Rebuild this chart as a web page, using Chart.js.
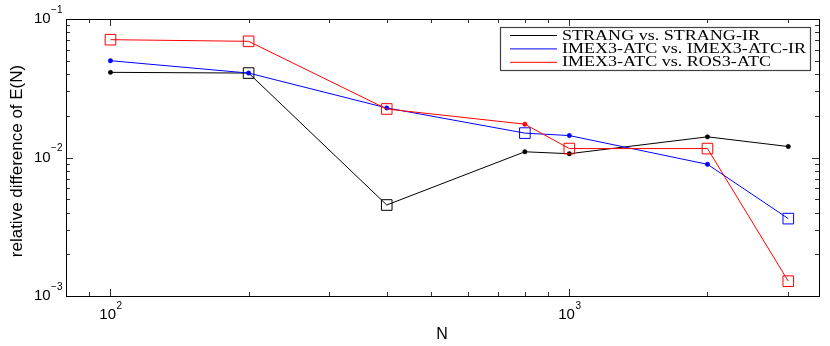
<!DOCTYPE html>
<html>
<head>
<meta charset="utf-8">
<script src="https://cdn.jsdelivr.net/npm/chart.js@4"></script>
<style>
  html, body { margin: 0; padding: 0; background: #fff; }
  #wrap { width: 830px; height: 346px; }
</style>
</head>
<body>
<div id="wrap"><canvas id="chart" width="830" height="346"></canvas></div>
<script>
// === data ===
var nValues = [100, 200, 400, 800, 1000, 2000, 3000];

var strangVals  = [0.0412, 0.0407, 0.00454, 0.0110, 0.01065, 0.0141, 0.0120];
var strangMarks = ['dot', 'sq', 'sq', 'dot', 'dot', 'dot', 'dot'];

var imexIrVals  = [0.0500, 0.0407, 0.0228, 0.0150, 0.0144, 0.00893, 0.00362];
var imexIrMarks = ['dot', 'dot', 'dot', 'sq', 'dot', 'dot', 'sq'];

var rosVals  = [0.0709, 0.0690, 0.0224, 0.0174, 0.0116, 0.0116, 0.00128];
var rosMarks = ['sq', 'sq', 'sq', 'dot', 'sq', 'sq', 'sq'];

var seriesLabels = ['STRANG vs. STRANG-IR', 'IMEX3-ATC vs. IMEX3-ATC-IR', 'IMEX3-ATC vs. ROS3-ATC'];
var seriesColors = ['#000000', '#0000ff', '#ff0000'];

var xTickDecades = [2, 3];       // 10^2, 10^3
var yTickDecades = [-1, -2, -3]; // 10^-1 .. 10^-3

// === helpers ===
function makeDataset(label, vals, marks, color, order) {
  return {
    label: label,
    data: vals.map(function(v, i) { return { x: nValues[i], y: v }; }),
    borderColor: color,
    borderWidth: 1,
    pointStyle: marks.map(function(m) { return m === 'sq' ? 'rect' : 'circle'; }),
    pointRadius: marks.map(function(m) { return m === 'sq' ? 7.5 : 2.2; }),
    pointBorderWidth: marks.map(function(m) { return m === 'sq' ? 1 : 0.5; }),
    pointBackgroundColor: marks.map(function(m) { return m === 'sq' ? 'rgba(0,0,0,0)' : color; }),
    pointBorderColor: color,
    tension: 0,
    order: order
  };
}

function minorValues(lo, hi) {
  var out = [];
  for (var e = Math.floor(Math.log10(lo)); e <= Math.ceil(Math.log10(hi)); e++) {
    for (var k = 1; k <= 9; k++) {
      var v = k * Math.pow(10, e);
      if (v >= lo * 0.9999 && v <= hi * 1.0001) out.push({ v: v, major: k === 1 });
    }
  }
  return out;
}

function supLabel(ctx, base, exp, x, y, align) {
  ctx.font = '15px "Liberation Sans", Arial, sans-serif';
  var wb = ctx.measureText(base).width;
  ctx.font = '10px "Liberation Sans", Arial, sans-serif';
  var we = ctx.measureText(exp).width;
  var total = wb + we;
  var x0 = align === 'right' ? x - total : x - total / 2;
  ctx.fillStyle = '#000';
  ctx.textBaseline = 'middle';
  ctx.textAlign = 'left';
  ctx.font = '15px "Liberation Sans", Arial, sans-serif';
  ctx.fillText(base, x0, y);
  ctx.font = '10px "Liberation Sans", Arial, sans-serif';
  ctx.fillText(exp, x0 + wb + 0.5, y - 9);
}

// === axes box, inward ticks, labels, legend (MATLAB look) ===
var axesPlugin = {
  id: 'matlabAxes',
  afterDraw: function(chart) {
    var ctx = chart.ctx;
    var a = chart.chartArea;
    var xs = chart.scales.x, ys = chart.scales.y;
    ctx.save();

    // ticks
    ctx.strokeStyle = '#333';
    ctx.lineWidth = 1;
    ctx.beginPath();
    minorValues(xs.min, xs.max).forEach(function(t) {
      var px = Math.round(xs.getPixelForValue(t.v)) + 0.5;
      var len = t.major ? 7 : 4;
      ctx.moveTo(px, a.bottom); ctx.lineTo(px, a.bottom - len);
      ctx.moveTo(px, a.top); ctx.lineTo(px, a.top + len);
    });
    minorValues(ys.min, ys.max).forEach(function(t) {
      var py = Math.round(ys.getPixelForValue(t.v)) + 0.5;
      var len = t.major ? 7 : 4;
      ctx.moveTo(a.left, py); ctx.lineTo(a.left + len, py);
      ctx.moveTo(a.right, py); ctx.lineTo(a.right - len, py);
    });
    ctx.stroke();

    // box
    ctx.strokeStyle = '#000';
    ctx.strokeRect(Math.round(a.left) + 0.5, Math.round(a.top) + 0.5,
      Math.round(a.right - a.left), Math.round(a.bottom - a.top));

    // tick labels
    xTickDecades.forEach(function(e) {
      supLabel(ctx, '10', String(e), xs.getPixelForValue(Math.pow(10, e)), a.bottom + 19, 'center');
    });
    yTickDecades.forEach(function(e) {
      supLabel(ctx, '10', '\u2212' + Math.abs(e), a.left - 4, ys.getPixelForValue(Math.pow(10, e)), 'right');
    });

    // axis titles
    ctx.fillStyle = '#000';
    ctx.textAlign = 'center';
    ctx.textBaseline = 'middle';
    ctx.font = '16px "Liberation Sans", Arial, sans-serif';
    ctx.fillText('N', 442, 335);
    ctx.save();
    ctx.translate(17, 161);
    ctx.rotate(-Math.PI / 2);
    ctx.font = '17px "Liberation Sans", Arial, sans-serif';
    ctx.fillText('relative difference of E(N)', 0, 0);
    ctx.restore();

    // legend
    var lx = 500.5, ly = 27.5, lw = 310, lh = 43;
    ctx.fillStyle = '#fff';
    ctx.fillRect(lx, ly, lw, lh);
    ctx.strokeStyle = '#444';
    ctx.lineWidth = 1.2;
    ctx.strokeRect(lx, ly, lw, lh);
    ctx.font = '14px "Liberation Serif", "DejaVu Serif", serif';
    var widest = ctx.measureText(seriesLabels[1]).width;
    var sx = 244 / widest;
    chart.data.datasets.forEach(function(ds, i) {
      var rowY = 35.5 + i * 13.4;
      ctx.strokeStyle = ds.borderColor;
      ctx.lineWidth = 1;
      ctx.beginPath();
      ctx.moveTo(510, rowY); ctx.lineTo(557, rowY);
      ctx.stroke();
      ctx.save();
      ctx.translate(562, rowY + 0.5);
      ctx.scale(sx, 1);
      ctx.fillStyle = '#000';
      ctx.textAlign = 'left';
      ctx.textBaseline = 'middle';
      ctx.fillText(ds.label, 0, 0);
      ctx.restore();
    });

    ctx.restore();
  }
};

var ctx = document.getElementById('chart').getContext('2d');
new Chart(ctx, {
  type: 'line',
  data: {
    datasets: [
      makeDataset(seriesLabels[0], strangVals, strangMarks, seriesColors[0], 2),
      makeDataset(seriesLabels[1], imexIrVals, imexIrMarks, seriesColors[1], 1),
      makeDataset(seriesLabels[2], rosVals, rosMarks, seriesColors[2], 0)
    ]
  },
  options: {
    responsive: false,
    animation: false,
    events: [],
    layout: { padding: { top: 19, right: 11, left: 0, bottom: 0 } },
    plugins: {
      legend: { display: false },
      tooltip: { enabled: false }
    },
    scales: {
      x: {
        type: 'logarithmic',
        min: 80,
        max: 3500,
        grid: { display: false },
        border: { display: false },
        ticks: { display: false },
        afterFit: function(s) { s.height = 50; }
      },
      y: {
        type: 'logarithmic',
        min: 0.001,
        max: 0.1,
        grid: { display: false },
        border: { display: false },
        ticks: { display: false },
        afterFit: function(s) { s.width = 66; }
      }
    }
  },
  plugins: [axesPlugin]
});
</script>
</body>
</html>
